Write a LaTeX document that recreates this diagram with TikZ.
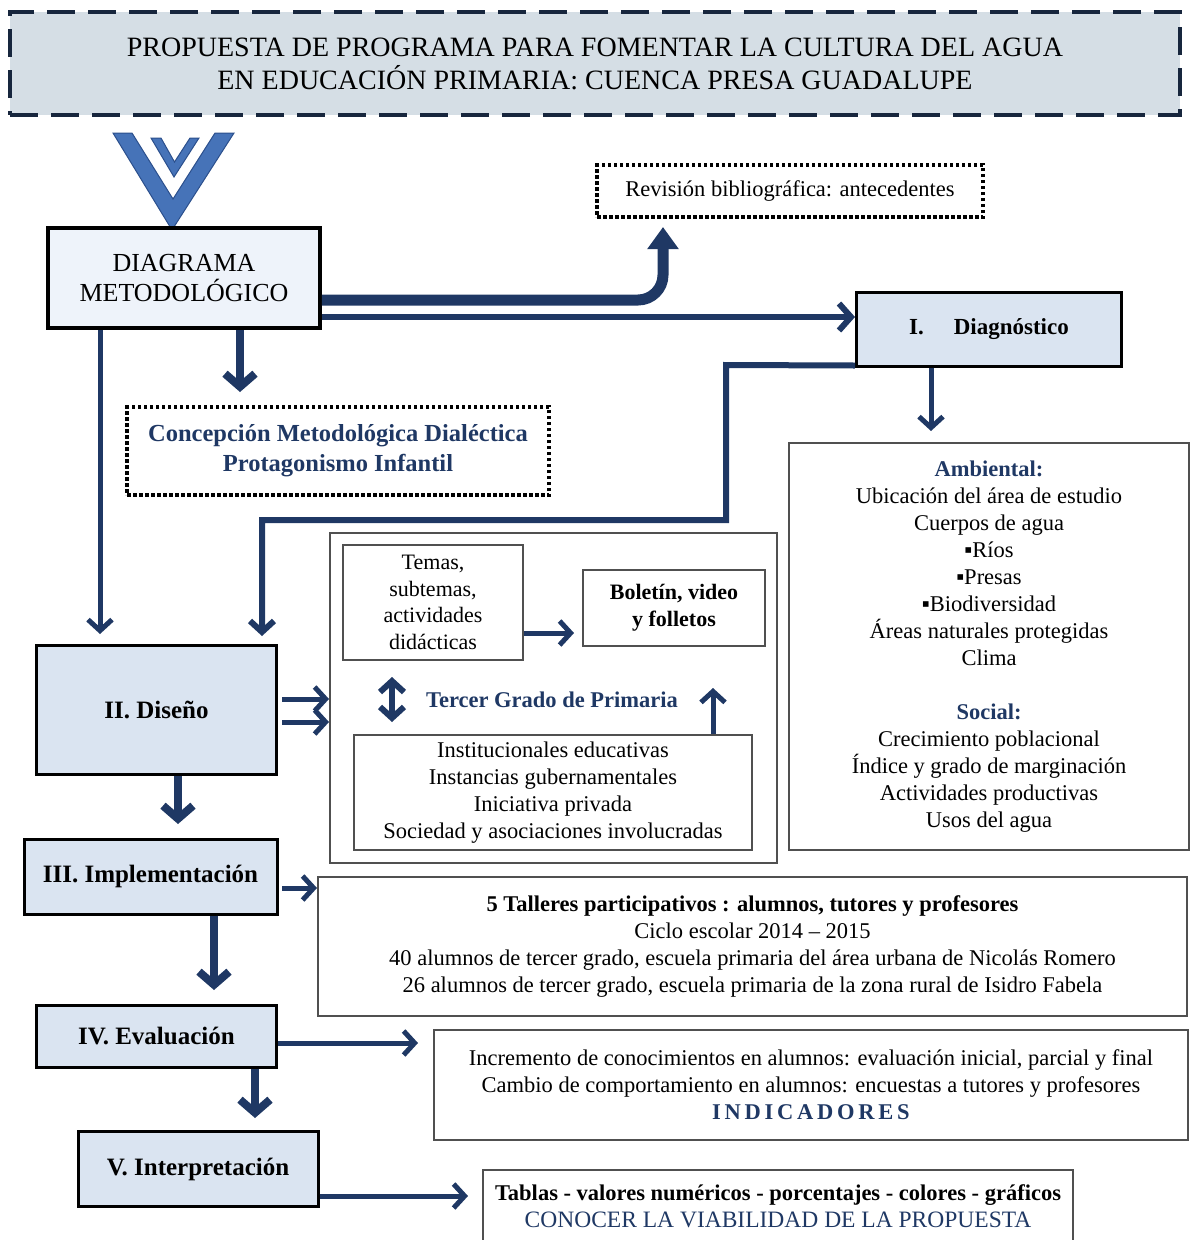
\documentclass[tikz,border=0pt]{standalone}
\usepackage{fontspec}
\setmainfont{Liberation Serif}
\usetikzlibrary{arrows.meta}
\definecolor{navy}{HTML}{1F3864}
\definecolor{titlefill}{HTML}{D5DEE5}
\definecolor{titledash}{HTML}{17263D}
\definecolor{stagefill}{HTML}{DAE4F1}
\definecolor{lightfill}{HTML}{EEF3FA}
\definecolor{boxgray}{HTML}{505050}
\definecolor{chevblue}{HTML}{4673B8}
\definecolor{chevdark}{HTML}{2B4F8C}
\newcommand{\fA}{\fontsize{22.5}{27}\selectfont}
\newcommand{\fT}{\fontsize{28}{33}\selectfont}
\newcommand{\fS}{\fontsize{25}{30}\selectfont}
\begin{document}
\begin{tikzpicture}[x=1pt,y=-1pt,
  lbl/.style={font=\fA, align=center, inner sep=0pt, text=black},
  stage/.style={draw=black, line width=3pt, fill=stagefill, font=\fS\bfseries, align=center, inner sep=0pt},
  gbox/.style={draw=boxgray, line width=2pt, font=\fA, align=center, inner sep=0pt},
  dotbox/.style={draw=black, line width=3.5pt, dash pattern=on 3.5pt off 2.5pt, font=\fA, align=center, inner sep=0pt},
  con/.style={draw=navy, line width=5pt, -{Straight Barb[length=11pt,width=24pt]}},
  conthick/.style={draw=navy, line width=8pt, -{Straight Barb[length=13pt,width=30pt]}},
  sz/.style n args={2}{minimum width=#1pt, minimum height=#2pt}
]
\useasboundingbox (0,0) rectangle (1190,1240);

% title
\node[draw=titledash, fill=titlefill, line width=4pt, dash pattern=on 28pt off 13pt,
      sz={1170}{103}, font=\fT, align=center, inner sep=0pt] (title) at (595,63.5)
  {PROPUESTA DE PROGRAMA PARA FOMENTAR LA CULTURA DEL AGUA\\EN EDUCACIÓN PRIMARIA: CUENCA PRESA GUADALUPE};

% chevrons
\fill[chevblue, draw=chevdark, line width=1pt] (113,133) -- (132,133) -- (173,199) -- (215,133) -- (234,133) -- (172,230) -- cycle;
\fill[chevblue, draw=chevdark, line width=1pt] (151,138) -- (161,138) -- (174.5,162) -- (190,138) -- (199,138) -- (174,177) -- cycle;

% nodes
\node[draw=black, line width=3.5pt, fill=lightfill, sz={272}{100}, font=\fontsize{26}{30}\selectfont, align=center, inner sep=0pt] (dm) at (184,278) {DIAGRAMA\\METODOLÓGICO};
\node[dotbox, sz={386}{52}] (rev) at (790,191) {Revisión bibliográfica: antecedentes};
\node[stage, sz={265}{74}, font=\fontsize{23}{27}\selectfont\bfseries] (diag) at (989,329) {I.\hspace{30pt}Diagnóstico};
\node[dotbox, sz={422}{88}, font=\fontsize{24.5}{30}\selectfont\bfseries, text=navy] (conc) at (338,451) {Concepción Metodológica Dialéctica\\Protagonismo Infantil};
\node[stage, sz={240}{129}] (dis) at (156.5,710) {II. Diseño};
\node[gbox, sz={447}{330}] (big) at (553.5,698) {};
\node[gbox, sz={180}{115}, font=\fontsize{22}{26.7}\selectfont] (temas) at (433,602.5) {Temas,\\subtemas,\\actividades\\didácticas};
\node[gbox, sz={182}{76}, font=\fontsize{22}{27}\selectfont\bfseries] (bol) at (674,608) {Boletín, video\\y folletos};
\node[lbl, font=\fA\bfseries, text=navy] (tercer) at (552,700) {Tercer Grado de Primaria};
\node[gbox, sz={398}{115}] (inst) at (553,792.5) {Institucionales educativas\\Instancias gubernamentales\\Iniciativa privada\\Sociedad y asociaciones involucradas};
\node[gbox, sz={400}{407}] (amb) at (989,646.5) {\textbf{\textcolor{navy}{Ambiental:}}\\Ubicación del área de estudio\\Cuerpos de agua\\▪Ríos\\▪Presas\\▪Biodiversidad\\Áreas naturales protegidas\\Clima\\[27pt]\textbf{\textcolor{navy}{Social:}}\\Crecimiento poblacional\\Índice y grado de marginación\\Actividades productivas\\Usos del agua};
\node[stage, sz={253}{75}] (impl) at (150.5,876.5) {III. Implementación};
\node[gbox, sz={869}{139}] (tall) at (752.5,946.5) {\textbf{5 Talleres participativos : alumnos, tutores y profesores}\\Ciclo escolar 2014 – 2015\\40 alumnos de tercer grado, escuela primaria del área urbana de Nicolás Romero\\26 alumnos de tercer grado, escuela primaria de la zona rural de Isidro Fabela};
\node[stage, sz={240}{62}] (eval) at (156.5,1036) {IV. Evaluación};
\node[gbox, sz={754}{110}] (ind) at (811,1085) {Incremento de conocimientos en alumnos: evaluación inicial, parcial y final\\Cambio de comportamiento en alumnos: encuestas a tutores y profesores\\\textbf{\textcolor{navy}{I\,N\,D\,I\,C\,A\,D\,O\,R\,E\,S}}};
\node[stage, sz={240}{75}] (interp) at (198,1169) {V. Interpretación};
\node[gbox, sz={590}{72}] (tab) at (778,1206) {\textbf{Tablas - valores numéricos - porcentajes - colores - gráficos}\\\textcolor{navy}{\fontsize{23.5}{27}\selectfont CONOCER LA VIABILIDAD DE LA PROPUESTA}};

% connectors
\draw[navy, line width=11pt, rounded corners=25pt, -{Triangle[length=22pt,width=30pt]}]
  (dm.east |- 0,300) -- (663,300) -- (663,227);
\draw[con, line width=6pt, -{Straight Barb[length=12pt,width=27pt]}] (dm.east |- 0,317) -- (diag.west |- 0,317);
\draw[conthick] (dm.south -| 240,0) -- (240,392);
\draw[con] (dm.south -| 100,0) -- (100,634);
\draw[con] (diag.south -| 931,0) -- (931,431);
\draw[con, line width=6pt] (diag.south west) ++(0,-2) -- (726,365) -- (726,520) -- (262,520) -- (262,636);
\draw[con] (282,699) -- (big.west |- 0,699);
\draw[con] (282,722) -- (big.west |- 0,722);
\draw[con] (temas.east |- 0,633) -- (574,633);
\draw[con, line width=6pt, {Straight Barb[length=11pt,width=24pt]}-{Straight Barb[length=11pt,width=24pt]}] (392,677) -- (392,722);
\draw[con] (inst.north -| 713,0) -- (713,688);
\draw[conthick] (dis.south -| 178,0) -- (178,824);
\draw[con] (282,888) -- (tall.west |- 0,888);
\draw[conthick] (impl.south -| 214,0) -- (214,990);
\draw[con] (eval.east |- 0,1043) -- (418,1043);
\draw[conthick] (eval.south -| 255,0) -- (255,1118);
\draw[con] (interp.east |- 0,1196) -- (468,1196);
\end{tikzpicture}
\end{document}
